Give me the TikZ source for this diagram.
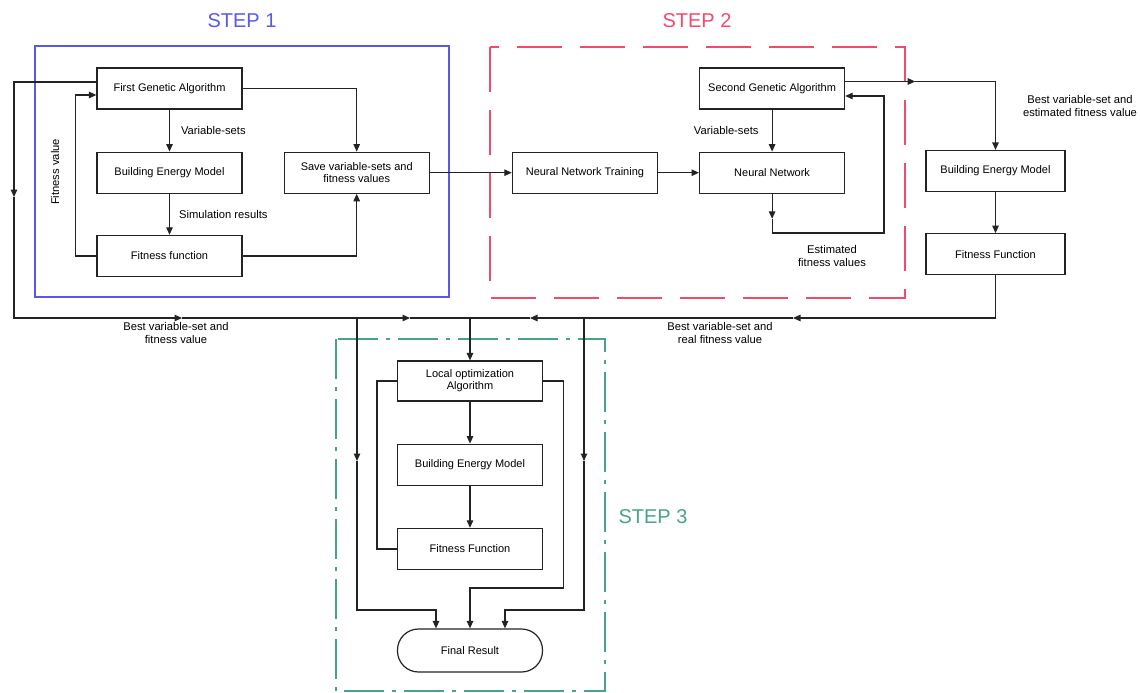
\documentclass[tikz,border=0pt]{standalone}
\usepackage{fontspec}
\setmainfont{Liberation Sans}
\usepackage{tikz}
\usetikzlibrary{positioning,arrows.meta}
\definecolor{stepblue}{RGB}{88,88,235}
\definecolor{stepred}{RGB}{240,75,110}
\definecolor{stepgreen}{RGB}{70,165,135}
\definecolor{wiregray}{RGB}{35,35,35}
\tikzset{
  blk/.style   = {draw=wiregray, line width=1.2pt, minimum width=145pt, minimum height=41pt, align=center, font=\fontsize{11}{12}\selectfont, inner sep=2pt},
  lbl/.style   = {align=center, font=\fontsize{11.2}{12.5}\selectfont, inner sep=1pt},
  flow/.style  = {-{Triangle[length=7.5pt,width=6.5pt]}, line width=1.2pt, draw=wiregray},
  wire/.style  = {line width=1.2pt, draw=wiregray},
  steptitle/.style = {font=\fontsize{20}{24}\selectfont},
}
\begin{document}
\begin{tikzpicture}[x=1pt, y=-1pt]
  \useasboundingbox (0,0) rectangle (1140,693);

  % step frames
  \draw[stepblue, line width=1.3pt] (35,46) rectangle (449,297);
  \draw[stepred, line width=1.3pt, dash pattern=on 45pt off 18pt] (490,47) rectangle (905,298);
  \draw[stepgreen, line width=1.3pt, dash pattern=on 40pt off 8pt on 4pt off 8pt] (336,339) rectangle (605,691);
  \node[steptitle, text=stepblue] (t1) at (242,21) {STEP 1};
  \node[steptitle, text=stepred] (t2) at (697,21) {STEP 2};
  \node[steptitle, text=stepgreen] (t3) at (653,517) {STEP 3};

  % step 1
  \node[blk] (fga) at (169.5,88.5) {First Genetic Algorithm};
  \node[blk, below=42pt of fga] (bem1) {Building Energy Model};
  \node[blk, below=41pt of bem1] (ff1) {Fitness function};
  \node[blk, right=41pt of bem1] (save) {Save variable-sets and\\fitness values};
  \node[lbl, rotate=90] (fv) at (55,172) {Fitness value};

  \draw[flow] (fga) -- node[lbl, right=10pt] {Variable-sets} (bem1);
  \draw[flow] (bem1) -- node[lbl, right=8pt] {Simulation results} (ff1);
  \draw[flow] (fga.east) -| (save.north);
  \draw[flow] (ff1.east) -| (save.south);
  \draw[flow] (ff1.west) -- ++(-21,0) |- ([yshift=-6.5pt]fga.west);

  % step 2
  \node[blk, right=82pt of save] (nnt) {Neural Network Training};
  \node[blk, right=41pt of nnt] (nn) {Neural Network};
  \node[blk, above=42pt of nn] (sga) {Second Genetic Algorithm};
  \node[lbl] (efv) at (832,256) {Estimated\\fitness values};

  \draw[flow] (save) -- (nnt);
  \draw[flow] (nnt) -- (nn);
  \draw[flow] (sga) -- node[lbl, left=12pt] {Variable-sets} (nn);
  \draw[flow] (nn.south) -- ++(0,25) coordinate (nd);
  \draw[flow] (nd) |- (884,233) |- ([yshift=-7.5pt]sga.east);

  % real evaluation
  \node[blk, minimum width=139pt] (bem2) at (995.5,171) {Building Energy Model};
  \node[blk, minimum width=139pt, below=41pt of bem2] (ff2) {Fitness Function};
  \node[lbl] (bve) at (1080,106) {Best variable-set and\\estimated fitness value};
  \draw[flow] ([yshift=7pt]sga.east) -- ++(70,0) coordinate (ra);
  \draw[flow] (ra) -| (bem2.north);
  \draw[flow] (bem2) -- (ff2);

  % bus to step 3
  \coordinate (ld) at (14,197);
  \coordinate (a1) at (182,318);
  \coordinate (j1) at (357,318);
  \coordinate (a2) at (410,318);
  \coordinate (j2) at (470,318);
  \coordinate (a3) at (530,318);
  \coordinate (j3) at (584,318);
  \coordinate (a4) at (793,318);
  \node[lbl] (bfv) at (176,333) {Best variable-set and\\fitness value};
  \node[lbl] (brv) at (720,333) {Best variable-set and\\real fitness value};

  \draw[flow] ([yshift=6.5pt]fga.west) -| (ld);
  \draw[flow] (ld) |- (a1);
  \draw[flow] (a1) -- (a2);
  \draw[wire] (a2) -- (j2);
  \draw[flow] (ff2) |- (a4);
  \draw[flow] (a4) -- (a3);
  \draw[wire] (a3) -- (j2);

  % step 3
  \node[blk, minimum height=40pt] (loa) at (470,381) {Local optimization\\Algorithm};
  \node[blk, below=42pt of loa] (bem3) {Building Energy Model};
  \node[blk, below=42pt of bem3] (ff3) {Fitness Function};
  \node[blk, minimum height=43pt, rounded corners=21pt] (fin) at (470,650.5) {Final Result};

  \draw[flow] (j2) -- (loa);
  \draw[flow] (loa) -- (bem3);
  \draw[flow] (bem3) -- (ff3);
  \draw[wire] (ff3.west) -- ++(-20,0) |- (loa.west);
  \draw[flow] (loa.east) -- ++(20,0) |- (470,588) -- (fin.north);
  \coordinate (lm) at (357,461);
  \coordinate (rm) at (584,461);
  \draw[flow] (j1) -- (lm);
  \draw[flow] (lm) -- (357,610) -| ([xshift=-34pt]fin.north);
  \draw[flow] (j3) -- (rm);
  \draw[flow] (rm) -- (584,610) -| ([xshift=35pt]fin.north);
\end{tikzpicture}
\end{document}
